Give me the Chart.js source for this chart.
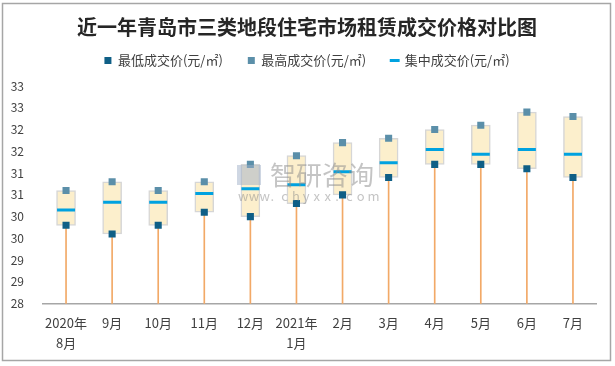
<!DOCTYPE html>
<html>
<head>
<meta charset="utf-8">
<script src="https://cdn.jsdelivr.net/npm/chart.js@4/dist/chart.umd.min.js"></script>
<style>
  html, body { margin: 0; padding: 0; background: #fff; }
  #wrap { width: 615px; height: 366px; position: relative; }
</style>
</head>
<body>
<div id="wrap"><canvas id="c" width="615" height="366"></canvas></div>
<script>
const FONT = "'Noto Sans CJK SC', 'Noto Sans', sans-serif";

const months = [['2020年', '8月'], '9月', '10月', '11月', '12月', ['2021年', '1月'], '2月', '3月', '4月', '5月', '6月', '7月'];
const lowPrice = [29.8, 29.6, 29.8, 30.1, 30.0, 30.3, 30.5, 30.9, 31.2, 31.2, 31.1, 30.9];
const highPrice = [30.6, 30.8, 30.6, 30.8, 31.2, 31.4, 31.7, 31.8, 32.0, 32.1, 32.4, 32.3];
const midPrice = [30.15, 30.33, 30.33, 30.53, 30.64, 30.73, 31.03, 31.24, 31.54, 31.43, 31.54, 31.43];
const axisMin = 28;
const axisMax = 33;

// outer grey frame around the whole picture
const frame = {
  id: 'frame',
  afterDraw(chart) {
    const ctx = chart.ctx;
    ctx.save();
    ctx.strokeStyle = '#a6a6a6';
    ctx.lineWidth = 1.5;
    ctx.strokeRect(2.5, 3.5, 608, 357);
    ctx.restore();
  },
};

// faint site watermark in the middle of the plot
const watermark = {
  id: 'watermark',
  afterDatasetsDraw(chart) {
    const ctx = chart.ctx;
    ctx.save();
    ctx.globalAlpha = 0.5;
    ctx.fillStyle = '#8a8a8a';
    ctx.font = `26px ${FONT}`;
    ctx.textBaseline = 'middle';
    ctx.fillText('智研咨询', 270, 175);
    ctx.font = `13px ${FONT}`;
    const s = 'www.chyxx.com';
    for (let i = 0; i < s.length; i++) ctx.fillText(s[i], 238 + i * 10.8, 196);
    ctx.fillStyle = '#9fb0c8';
    ctx.fillRect(237, 165, 24, 20);
    ctx.restore();
  },
};

// legend/title tweaks: room below the legend, and centre both on the full picture
const headerTweak = {
  id: 'headerTweak',
  beforeInit(chart) {
    const legend = chart.legend;
    const fit = legend.fit;
    legend.fit = function () {
      fit.bind(legend)();
      this.height += 9;
    };
    [legend, chart.titleBlock].forEach((box) => {
      const draw = box.draw;
      box.draw = function () {
        chart.ctx.save();
        chart.ctx.translate(9, 0);
        draw.apply(box, arguments);
        chart.ctx.restore();
      };
    });
  },
};

new Chart(document.getElementById('c'), {
  type: 'bar',
  data: {
    labels: months,
    datasets: [
      {
        type: 'line',
        label: '最低成交价(元/㎡)',
        data: lowPrice,
        showLine: false,
        pointStyle: 'rect',
        pointRadius: 5,
        pointBackgroundColor: '#0f5f86',
        pointBorderWidth: 0,
        backgroundColor: '#0f5f86',
        borderColor: '#0f5f86',
        borderWidth: 0,
        order: 0,
      },
      {
        type: 'line',
        label: '最高成交价(元/㎡)',
        data: highPrice,
        showLine: false,
        pointStyle: 'rect',
        pointRadius: 5,
        pointBackgroundColor: '#5b8fa9',
        pointBorderWidth: 0,
        backgroundColor: '#5b8fa9',
        borderColor: '#5b8fa9',
        borderWidth: 0,
        order: 1,
      },
      {
        type: 'line',
        label: '集中成交价(元/㎡)',
        data: midPrice,
        showLine: false,
        pointStyle: 'line',
        pointRadius: 9,
        pointBorderColor: '#00a2e0',
        pointBorderWidth: 3,
        backgroundColor: '#00a2e0',
        borderColor: '#00a2e0',
        borderWidth: 3,
        order: 2,
      },
      {
        label: 'box',
        data: lowPrice.map((v, i) => [v, highPrice[i]]),
        backgroundColor: '#fcefcc',
        borderColor: '#d6d6d6',
        borderWidth: 1.5,
        borderSkipped: false,
        barThickness: 19,
        grouped: false,
        order: 3,
      },
      {
        label: 'stem',
        data: lowPrice.map(v => [axisMin, v]),
        backgroundColor: '#f2a967',
        borderWidth: 0,
        barThickness: 1,
        grouped: false,
        order: 4,
      },
    ],
  },
  options: {
    responsive: false,
    animation: false,
    devicePixelRatio: 1,
    layout: { padding: { left: 0, right: 19, top: 0, bottom: 4 } },
    plugins: {
      title: {
        display: true,
        text: '近一年青岛市三类地段住宅市场租赁成交价格对比图',
        color: '#262626',
        font: { family: FONT, size: 20, weight: 'bold', lineHeight: 1.2 },
        padding: { top: 15, bottom: -10 },
      },
      legend: {
        display: true,
        labels: {
          filter: (item) => item.datasetIndex < 3,
          usePointStyle: true,
          boxWidth: 7,
          boxHeight: 7,
          padding: 25,
          color: '#404040',
          font: { family: FONT, size: 13 },
        },
      },
      tooltip: { enabled: false },
    },
    scales: {
      x: {
        grid: { display: false, drawTicks: false },
        border: { display: true, color: '#a6a6a6', width: 1.5 },
        ticks: {
          color: '#404040',
          padding: 9,
          maxRotation: 0,
          autoSkip: false,
          font: { family: FONT, size: 13, lineHeight: 1.55 },
        },
      },
      y: {
        min: axisMin,
        max: axisMax,
        afterFit: (scale) => { scale.width = 43; },
        grid: { display: false, drawTicks: false },
        border: { display: false },
        ticks: {
          stepSize: 0.5,
          padding: 19,
          color: '#404040',
          font: { family: FONT, size: 12 },
          callback: (v) => Math.round(v),
        },
      },
    },
  },
  plugins: [frame, watermark, headerTweak],
});
</script>
</body>
</html>
